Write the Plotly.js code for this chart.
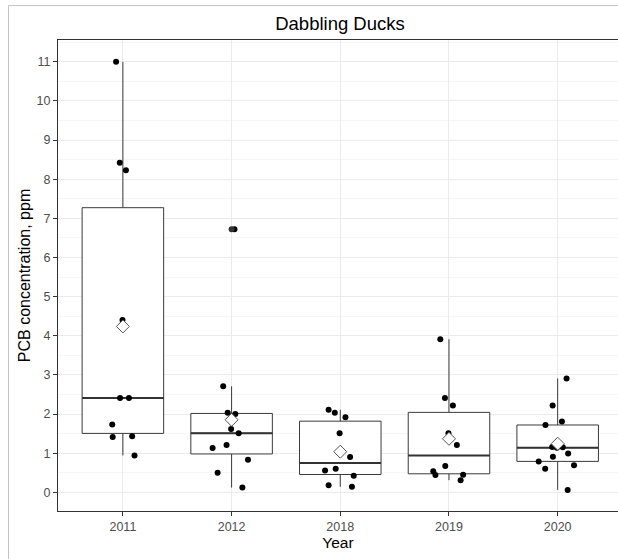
<!DOCTYPE html>
<html><head><meta charset="utf-8">
<script src="https://cdn.plot.ly/plotly-3.0.1.min.js"></script>
<style>html,body{margin:0;padding:0;background:#fff}</style>
</head><body><div id="chart" style="width:618px;height:559px"></div>
<script>
const years = ['2011', '2012', '2018', '2019', '2020'];
const pcb2011 = [11.0, 8.42, 8.23, 4.40, 2.41, 2.41, 1.73, 1.43, 1.41, 0.94];
const pcb2012 = [6.72, 2.71, 2.03, 2.00, 1.62, 1.51, 1.21, 1.13, 0.83, 0.50, 0.12];
const pcb2018 = [2.11, 2.03, 1.92, 1.51, 0.90, 0.60, 0.56, 0.42, 0.18, 0.14];
const pcb2019 = [3.91, 2.41, 2.22, 1.51, 1.21, 0.67, 0.54, 0.45, 0.44, 0.31];
const pcb2020 = [2.91, 2.22, 1.81, 1.72, 1.16, 1.15, 1.14, 0.99, 0.91, 0.79, 0.69, 0.60, 0.06];
const yTicks = [0, 1, 2, 3, 4, 5, 6, 7, 8, 9, 10, 11];

const series = [pcb2011, pcb2012, pcb2018, pcb2019, pcb2020];
const pos = years.map((_, i) => i);

function q7(s, p) {
  const h = (s.length - 1) * p, lo = Math.floor(h), hi = Math.ceil(h);
  return s[lo] + (h - lo) * (s[hi] - s[lo]);
}
const stats = series.map(v => {
  const s = v.slice().sort((a, b) => a - b);
  const q1 = q7(s, 0.25), med = q7(s, 0.5), q3 = q7(s, 0.75), iqr = q3 - q1;
  const inside = s.filter(x => x >= q1 - 1.5 * iqr && x <= q3 + 1.5 * iqr);
  const outl = s.filter(x => x < q1 - 1.5 * iqr || x > q3 + 1.5 * iqr);
  return {q1, med, q3, lf: inside[0], uf: inside[inside.length - 1], outl,
          mean: v.reduce((a, b) => a + b, 0) / v.length};
});

const BOXW = 0.75;
const traces = [];
// boxes
traces.push({
  type: 'box', x: pos,
  q1: stats.map(s => s.q1), median: stats.map(s => s.med), q3: stats.map(s => s.q3),
  lowerfence: stats.map(s => s.lf), upperfence: stats.map(s => s.uf),
  width: BOXW, boxpoints: false, fillcolor: '#ffffff',
  line: {color: '#3a3a3a', width: 1}, whiskerwidth: 0, hoverinfo: 'skip', showlegend: false
});
// thick median
traces.push({
  type: 'box', x: pos,
  q1: stats.map(s => s.med), median: stats.map(s => s.med), q3: stats.map(s => s.med),
  lowerfence: stats.map(s => s.med), upperfence: stats.map(s => s.med),
  width: BOXW, boxpoints: false, fillcolor: 'rgba(0,0,0,0)',
  line: {color: '#333333', width: 2}, whiskerwidth: 0, hoverinfo: 'skip', showlegend: false
});
// outliers (from boxplot)
const ox = [], oy = [];
stats.forEach((s, i) => s.outl.forEach(v => { ox.push(i); oy.push(v); }));
traces.push({type: 'scatter', mode: 'markers', x: ox, y: oy,
  marker: {color: '#333333', size: 6}, hoverinfo: 'skip', showlegend: false});
// jittered points
series.forEach((v, i) => {
  traces.push({
    type: 'box', x: v.map(() => i), y: v, width: BOXW,
    boxpoints: 'all', jitter: 0.55, pointpos: 0,
    fillcolor: 'rgba(0,0,0,0)', line: {color: 'rgba(0,0,0,0)', width: 0},
    marker: {color: '#000000', size: 6},
    hoverinfo: 'skip', showlegend: false
  });
});
// means
traces.push({type: 'scatter', mode: 'markers', x: pos, y: stats.map(s => s.mean),
  marker: {symbol: 'diamond', size: 10, color: '#ffffff', line: {color: '#555555', width: 1}},
  hoverinfo: 'skip', showlegend: false});

const FONT = 'Liberation Sans, Arial, sans-serif';
const frameX = (8.5 - 58) / 560, frameTop = (511 - 5.5) / 471, frameBot = (511 - 560) / 471;
const layout = {
  width: 618, height: 559,
  margin: {l: 58, r: 0, t: 40, b: 48},
  paper_bgcolor: '#ffffff', plot_bgcolor: '#ffffff',
  font: {family: FONT, color: '#000'},
  boxmode: 'overlay', showlegend: false,
  title: {text: 'Dabbling Ducks', font: {size: 18.5, color: '#000', family: FONT},
          x: 340 / 618, xref: 'container', xanchor: 'center', y: 1 - 23.5 / 559, yanchor: 'middle', yref: 'container'},
  xaxis: {
    range: [-0.597, 4.555], tickvals: pos, ticktext: years,
    showgrid: true, gridcolor: '#ebebeb', gridwidth: 1, zeroline: false,
    showline: true, linecolor: '#333333', linewidth: 1, mirror: true,
    ticks: 'outside', ticklen: 4, tickcolor: '#333333', tickwidth: 1,
    tickfont: {size: 12.5, color: '#4d4d4d', family: FONT},
    title: {text: 'Year', font: {size: 15.5, color: '#000', family: FONT}, standoff: 4}
  },
  yaxis: {
    range: [-0.478, 11.558], tickvals: yTicks,
    showgrid: true, gridcolor: '#ebebeb', gridwidth: 1, zeroline: false,
    minor: {dtick: 0.5, tick0: 0, showgrid: true, gridcolor: '#f0f0f0', gridwidth: 0.6, ticks: ''},
    showline: true, linecolor: '#333333', linewidth: 1, mirror: false,
    ticks: 'outside', ticklen: 4, tickcolor: '#333333', tickwidth: 1,
    tickfont: {size: 12.5, color: '#4d4d4d', family: FONT},
    title: {text: 'PCB concentration, ppm', font: {size: 16, color: '#000', family: FONT}, standoff: 1}
  },
  shapes: [
    {type: 'line', xref: 'paper', yref: 'paper', x0: frameX, x1: frameX, y0: frameBot, y1: frameTop,
     line: {color: '#c4c4c4', width: 1}},
    {type: 'line', xref: 'paper', yref: 'paper', x0: frameX, x1: 1.01, y0: frameTop, y1: frameTop,
     line: {color: '#c4c4c4', width: 1}}
  ]
};
Plotly.newPlot('chart', traces, layout, {displayModeBar: false, staticPlot: true});
</script></body></html>
